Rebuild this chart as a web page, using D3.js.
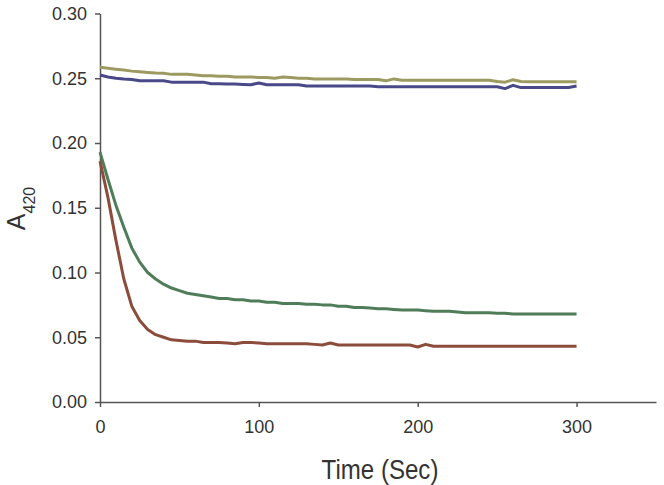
<!DOCTYPE html>
<html>
<head>
<meta charset="utf-8">
<script src="https://cdn.jsdelivr.net/npm/d3@7"></script>
<style>
  html, body { margin: 0; padding: 0; background: #fff; }
  svg { display: block; }
</style>
</head>
<body>
<script>
// ---- data ----
const times = d3.range(0, 301, 5);
const olive = [0.2585,0.2578,0.2570,0.2563,0.2555,0.2550,0.2545,0.2540,0.2538,0.2530,
  0.2530,0.2530,0.2525,0.2520,0.2520,0.2515,0.2515,0.2510,0.2510,0.2510,
  0.2505,0.2505,0.2500,0.2510,0.2505,0.2500,0.2500,0.2495,0.2495,0.2495,
  0.2495,0.2495,0.2490,0.2490,0.2490,0.2490,0.2480,0.2495,0.2485,0.2485,
  0.2485,0.2485,0.2485,0.2485,0.2485,0.2485,0.2485,0.2485,0.2485,0.2485,
  0.2475,0.2470,0.2488,0.2475,0.2473,0.2473,0.2473,0.2473,0.2473,0.2473,0.2473];
const navy = [0.2525,0.2510,0.2500,0.2494,0.2490,0.2480,0.2480,0.2480,0.2480,0.2470,
  0.2470,0.2470,0.2470,0.2470,0.2458,0.2458,0.2455,0.2455,0.2452,0.2450,
  0.2463,0.2450,0.2450,0.2450,0.2450,0.2450,0.2440,0.2440,0.2440,0.2440,
  0.2440,0.2440,0.2440,0.2440,0.2440,0.2435,0.2435,0.2435,0.2435,0.2435,
  0.2435,0.2435,0.2435,0.2435,0.2435,0.2435,0.2435,0.2435,0.2435,0.2435,
  0.2435,0.2420,0.2445,0.2428,0.2428,0.2428,0.2428,0.2428,0.2428,0.2428,0.2440];
const green = [0.193,0.172,0.152,0.135,0.119,0.108,0.100,0.095,0.091,0.088,
  0.086,0.084,0.083,0.082,0.081,0.080,0.080,0.079,0.079,0.078,
  0.078,0.077,0.077,0.076,0.076,0.076,0.0755,0.0755,0.075,0.075,
  0.074,0.074,0.073,0.073,0.0725,0.072,0.072,0.0715,0.071,0.071,
  0.071,0.0705,0.070,0.070,0.070,0.0695,0.069,0.069,0.069,0.069,
  0.0685,0.0685,0.068,0.068,0.068,0.068,0.068,0.068,0.068,0.068,0.068];
const brown = [0.186,0.158,0.125,0.095,0.074,0.063,0.056,0.052,0.050,0.048,
  0.0475,0.047,0.047,0.046,0.046,0.046,0.0455,0.045,0.046,0.046,
  0.0455,0.045,0.045,0.045,0.045,0.045,0.045,0.0445,0.044,0.0455,
  0.044,0.044,0.044,0.044,0.044,0.044,0.044,0.044,0.044,0.044,
  0.0425,0.0445,0.043,0.043,0.043,0.043,0.043,0.043,0.043,0.043,
  0.043,0.043,0.043,0.043,0.043,0.043,0.043,0.043,0.043,0.043,0.043];
const seriesNames = ["olive", "navy", "green", "brown"];
const seriesValues = [olive, navy, green, brown];
const seriesColors = ["#9c9a60", "#49498a", "#4f7d59", "#8c4c3b"];
const xTicks = [0, 100, 200, 300];
const yTicks = [0, 0.05, 0.10, 0.15, 0.20, 0.25, 0.30];
const xLabel = "Time (Sec)";

// ---- chart ----
const W = 664, H = 485;
const svg = d3.select("body").append("svg").attr("width", W).attr("height", H);

const x = d3.scaleLinear().domain([0, 350]).range([100, 656]);
const y = d3.scaleLinear().domain([0, 0.30]).range([402, 13.5]);

const axisColor = "#555";
const font = "'Liberation Sans', Arial, Helvetica, sans-serif";

const xAxis = svg.append("g").attr("transform", `translate(0,${y(0)})`)
  .call(d3.axisBottom(x).tickValues(xTicks).tickFormat(d3.format("d")).tickSize(5).tickPadding(13).tickSizeOuter(0));
const yAxis = svg.append("g").attr("transform", `translate(${x(0)},0)`)
  .call(d3.axisLeft(y).tickValues(yTicks).tickFormat(d3.format(".2f")).tickSize(5).tickPadding(8).tickSizeOuter(0));

[xAxis, yAxis].forEach(g => {
  g.select(".domain").attr("stroke", axisColor).attr("stroke-width", 1.5);
  g.selectAll(".tick line").attr("stroke", axisColor).attr("stroke-width", 1.5);
  g.selectAll(".tick text").attr("fill", "#333").style("font-family", font).style("font-size", "18px");
});

const line = d3.line().x((d, i) => x(times[i])).y(d => y(d));

svg.append("g").selectAll("path").data(seriesValues).join("path")
  .attr("d", d => line(d))
  .attr("fill", "none")
  .attr("stroke", (d, i) => seriesColors[i])
  .attr("stroke-width", 3)
  .attr("stroke-linejoin", "round");

svg.append("text")
  .attr("transform", `translate(380,479) scale(0.86,1)`)
  .attr("text-anchor", "middle")
  .attr("fill", "#333")
  .style("font-family", font)
  .style("font-size", "28px")
  .text(xLabel);

const yl = svg.append("text")
  .attr("transform", "translate(25,208.5) rotate(-90)")
  .attr("text-anchor", "middle")
  .attr("fill", "#333")
  .style("font-family", font);
yl.append("tspan").style("font-size", "25px").text("A");
yl.append("tspan").attr("dy", 9.5).style("font-size", "16px").text("420");
</script>
</body>
</html>
